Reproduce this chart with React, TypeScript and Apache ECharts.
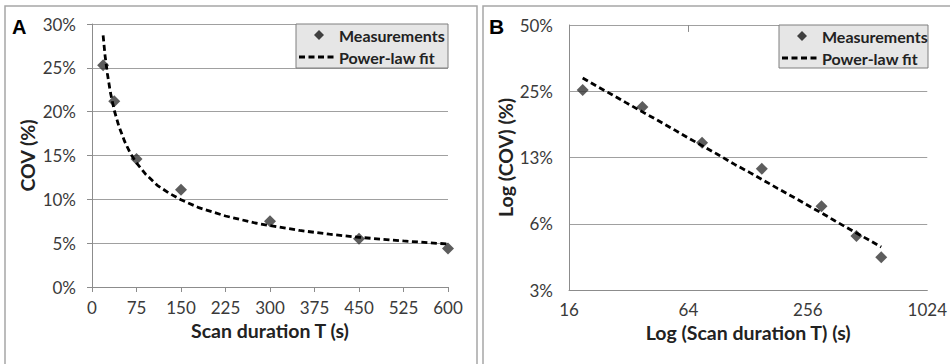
import React, { useEffect, useRef } from "react";
import * as echarts from "echarts";

// Measurements
const scanDuration = [18.75, 37.5, 75, 150, 300, 450, 600];
const covPercent = [25.3, 21.2, 14.6, 11.1, 7.5, 5.5, 4.4];

// Power-law fit curve
const fitDuration = [18.75, 22, 26, 31, 37.5, 45, 55, 65, 75, 90, 110, 130, 150, 180, 225, 275, 300, 350, 400, 450, 525, 600];
const fitPercent = [28.7, 26.4, 24.3, 22.2, 20.15, 18.4, 16.6, 15.2, 14.15, 12.9, 11.6, 10.7, 9.95, 9.05, 8.1, 7.3, 7.0, 6.45, 6.02, 5.67, 5.25, 4.9];

// Panel B tick values / labels
const xTicksB = [16, 64, 256, 1024];
const yTicksB = [3.125, 6.25, 12.5, 25, 50];
const yTickLabelsB = ["3%", "6%", "13%", "25%", "50%"];

const seriesNames = ["Measurements", "Power-law fit"];

const FONT = "Lato";
const tickColor = "#3a3a3a";
const gridColor = "#a0a0a0";
const axisColor = "#8c8c8c";
const titleColor = "#222222";
const dash = [6, 3.5];

function legendGroup(x: number, y: number, w: number, h: number) {
  return {
    type: "group",
    x,
    y,
    z: 100,
    children: [
      {
        type: "rect",
        shape: { x: 0, y: 0, width: w, height: h },
        style: { fill: "#e6e6e6", stroke: "#7f7f7f", lineWidth: 1 },
        z: 100,
      },
      {
        type: "polygon",
        shape: { points: [[23, 6], [28, 11], [23, 16], [18, 11]] },
        style: { fill: "#404040" },
        z: 101,
      },
      {
        type: "text",
        x: 43,
        y: 11,
        style: {
          text: seriesNames[0],
          font: `bold 16px ${FONT}`,
          fill: titleColor,
          verticalAlign: "middle",
          textVerticalAlign: "middle",
        },
        z: 101,
      },
      {
        type: "line",
        shape: { x1: 3, y1: 33, x2: 41, y2: 33 },
        style: { stroke: "#000", lineWidth: 2.8, lineDash: dash },
        z: 101,
      },
      {
        type: "text",
        x: 43,
        y: 33,
        style: {
          text: seriesNames[1],
          font: `bold 16px ${FONT}`,
          fill: titleColor,
          verticalAlign: "middle",
          textVerticalAlign: "middle",
        },
        z: 101,
      },
    ],
  };
}

export default function App() {
  const ref = useRef<HTMLDivElement>(null);

  useEffect(() => {
    if (!ref.current) return;
    const chart = echarts.init(ref.current, undefined, { renderer: "svg" });

    const measured = scanDuration.map((t, i) => [t, covPercent[i]]);
    const fit = fitDuration.map((t, i) => [t, fitPercent[i]]);

    const labelStyle = { color: tickColor, fontFamily: FONT, fontSize: 17 };
    const nameStyle = { color: titleColor, fontFamily: FONT, fontSize: 19.5, fontWeight: "bold" as const };

    const option: any = {
      animation: false,
      backgroundColor: "#ffffff",
      grid: [
        { left: 92, top: 24, width: 356, height: 263 },
        { left: 569, top: 25, width: 359, height: 265 },
      ],
      xAxis: [
        {
          gridIndex: 0,
          type: "value",
          min: 0,
          max: 600,
          interval: 75,
          axisLine: { show: true, onZero: false, lineStyle: { color: axisColor, width: 1 } },
          axisTick: { show: true, inside: false, length: 5, lineStyle: { color: axisColor } },
          splitLine: { show: false },
          axisLabel: { ...labelStyle, margin: 12 },
          name: "Scan duration T (s)",
          nameLocation: "middle",
          nameGap: 32,
          nameTextStyle: nameStyle,
        },
        {
          gridIndex: 1,
          type: "log",
          logBase: 4,
          min: 16,
          max: 1024,
          axisLine: { show: true, onZero: false, lineStyle: { color: axisColor, width: 1 } },
          axisTick: { show: false, customValues: xTicksB },
          splitLine: { show: false },
          axisLabel: {
            ...labelStyle,
            margin: 11,
            customValues: xTicksB,
            formatter: (v: number) => String(Math.round(v)),
          },
          name: "Log (Scan duration T) (s)",
          nameLocation: "middle",
          nameGap: 30,
          nameTextStyle: nameStyle,
        },
      ],
      yAxis: [
        {
          gridIndex: 0,
          type: "value",
          min: 0,
          max: 30,
          interval: 5,
          axisLine: { show: true, lineStyle: { color: axisColor, width: 1 } },
          axisTick: { show: true, inside: false, length: 5, lineStyle: { color: axisColor } },
          splitLine: { show: true, lineStyle: { color: gridColor, width: 1 } },
          axisLabel: { ...labelStyle, margin: 16, formatter: "{value}%" },
          name: "COV (%)",
          nameLocation: "middle",
          nameRotate: 90,
          nameGap: 55,
          nameTextStyle: nameStyle,
        },
        {
          gridIndex: 1,
          type: "log",
          logBase: 2,
          min: 3.125,
          max: 50,
          axisLine: { show: true, lineStyle: { color: axisColor, width: 1 } },
          axisTick: { show: false, customValues: yTicksB },
          splitLine: { show: true, lineStyle: { color: gridColor, width: 1 } },
          axisLabel: {
            ...labelStyle,
            margin: 16,
            customValues: yTicksB,
            formatter: (v: number) => {
              let best = 0;
              yTicksB.forEach((t, i) => {
                if (Math.abs(Math.log(t / v)) < Math.abs(Math.log(yTicksB[best] / v))) best = i;
              });
              return yTickLabelsB[best];
            },
          },
          name: "Log (COV) (%)",
          nameLocation: "middle",
          nameRotate: 90,
          nameGap: 53,
          nameTextStyle: nameStyle,
        },
      ],
      series: [
        {
          name: seriesNames[1],
          type: "line",
          xAxisIndex: 0,
          yAxisIndex: 0,
          data: fit,
          smooth: false,
          showSymbol: false,
          symbol: "none",
          lineStyle: { color: "#000", width: 2.8, type: dash },
          silent: true,
        },
        {
          name: seriesNames[0],
          type: "scatter",
          xAxisIndex: 0,
          yAxisIndex: 0,
          data: measured,
          symbol: "diamond",
          symbolSize: 12,
          itemStyle: { color: "#353535" },
        },
        {
          name: seriesNames[1],
          type: "line",
          xAxisIndex: 1,
          yAxisIndex: 1,
          data: fit,
          showSymbol: false,
          symbol: "none",
          lineStyle: { color: "#000", width: 2.8, type: dash },
          silent: true,
        },
        {
          name: seriesNames[0],
          type: "scatter",
          xAxisIndex: 1,
          yAxisIndex: 1,
          data: measured,
          symbol: "diamond",
          symbolSize: 12,
          itemStyle: { color: "#353535" },
          markLine: {
            silent: true,
            symbol: "none",
            label: { show: false },
            lineStyle: { color: axisColor, width: 1, type: "solid" },
            data: [[{ coord: [64, 50] }, { coord: [64, 46.5] }]],
          },
        },
      ],
      graphic: [
        {
          type: "rect",
          shape: { x: 5, y: 6, width: 472, height: 380 },
          style: { fill: "none", stroke: "#a6a6a6", lineWidth: 1.5 },
          z: 1,
        },
        {
          type: "rect",
          shape: { x: 483, y: 6, width: 480, height: 380 },
          style: { fill: "none", stroke: "#a6a6a6", lineWidth: 1.5 },
          z: 1,
        },
        {
          type: "text",
          x: 12,
          y: 27,
          style: {
            text: "A",
            font: 'bold 20px "Liberation Sans"',
            fill: "#000",
            verticalAlign: "middle",
            textVerticalAlign: "middle",
          },
          z: 100,
        },
        {
          type: "text",
          x: 489,
          y: 26,
          style: {
            text: "B",
            font: 'bold 21px "Liberation Sans"',
            fill: "#000",
            verticalAlign: "middle",
            textVerticalAlign: "middle",
          },
          z: 100,
        },
        legendGroup(296, 24, 152, 44),
        legendGroup(779, 25, 149, 43),
      ],
    };

    chart.setOption(option);
    return () => chart.dispose();
  }, []);

  return (
    <div
      ref={ref}
      style={{ position: "absolute", left: 0, top: 0, width: 950, height: 364 }}
    />
  );
}
